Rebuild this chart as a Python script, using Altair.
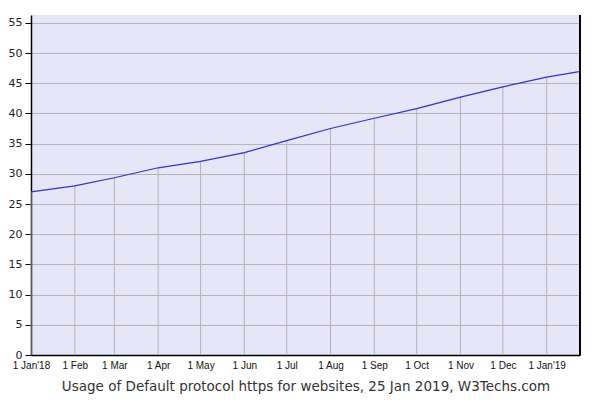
import altair as alt
import pandas as pd

# Data (percentage of websites using https by default)
dates = ["2018-01-01", "2018-02-01", "2018-03-01", "2018-04-01", "2018-05-01",
         "2018-06-01", "2018-07-01", "2018-08-01", "2018-09-01", "2018-10-01",
         "2018-11-01", "2018-12-01", "2019-01-01", "2019-01-25"]
values = [27.0, 28.0, 29.35, 31.0, 32.05, 33.5, 35.5, 37.5, 39.2, 40.8,
          42.7, 44.4, 46.0, 46.95]
# month starts get a drop line; last point (25 Jan) does not
is_month_start = [True] * 13 + [False]

y_ticks = [0, 5, 10, 15, 20, 25, 30, 35, 40, 45, 50, 55]
title_text = "Usage of Default protocol https for websites, 25 Jan 2019, W3Techs.com"

df = pd.DataFrame({
    "date": [d + "T00:00:00" for d in dates],
    "value": values,
    "drop": is_month_start,
})

W, H = 549, 340
x_scale = alt.Scale(domain=[alt.DateTime(year=2018, month=1, date=1),
                            alt.DateTime(year=2019, month=1, date=24, hours=14)])
y_scale = alt.Scale(domain=[0, 56.3], nice=False, zero=True)

label_expr = ("month(datum.value) == 0 ? timeFormat(datum.value, '%-d %b') + \"'\" + "
              "timeFormat(datum.value, '%y') : timeFormat(datum.value, '%-d %b')")

x_axis = alt.Axis(
    values=[alt.DateTime(year=int(d[:4]), month=int(d[5:7]), date=1) for d in dates[:13]],
    labelExpr=label_expr, grid=False, ticks=False, domain=True, domainColor="#000",
    domainWidth=1.5,
    labelFont="Liberation Sans", labelFontSize=10, labelColor="#111", labelPadding=5,
    labelBaseline="top",
    title=title_text, titleFont="DejaVu Sans", titleFontSize=13.5, titleFontWeight="normal",
    titleColor="#333", titlePadding=9, labelOverlap=False, labelFlush=False,
)
y_axis = alt.Axis(
    values=y_ticks, grid=True, gridColor="#b4b4b4", gridWidth=1, domainColor="#000",
    domainWidth=1.5, tickColor="#000", tickSize=6, labelFont="DejaVu Sans",
    labelFontSize=11, labelColor="#222", labelPadding=3, title=None,
    labelOverlap=False, labelFlush=False,
)

X = alt.X("date:T", scale=x_scale, axis=x_axis)
Y = alt.Y("value:Q", scale=y_scale, axis=y_axis)

base = alt.Chart(df)

drops = base.transform_filter("datum.drop").mark_rule(color="#b4b4b4", strokeWidth=1).encode(
    x=X, y=Y, y2=alt.datum(0),
)

line = base.mark_line(color="#3232c8", strokeWidth=1.2).encode(x=X, y=Y)

right_border = alt.Chart(df).mark_rule(color="#000", strokeWidth=1.5).encode(
    x=alt.value(W), y=alt.value(0), y2=alt.value(H)
)

chart = alt.layer(drops, line, right_border).properties(
    width=W, height=H,
    autosize=alt.AutoSizeParams(type="none"),
    padding={"left": 23, "top": 7, "right": 12, "bottom": 45},
    background="white",
).configure_view(fill="#e6e6f8", stroke=None)

chart.save("out.html", embed_options={"renderer": "svg", "actions": False})
